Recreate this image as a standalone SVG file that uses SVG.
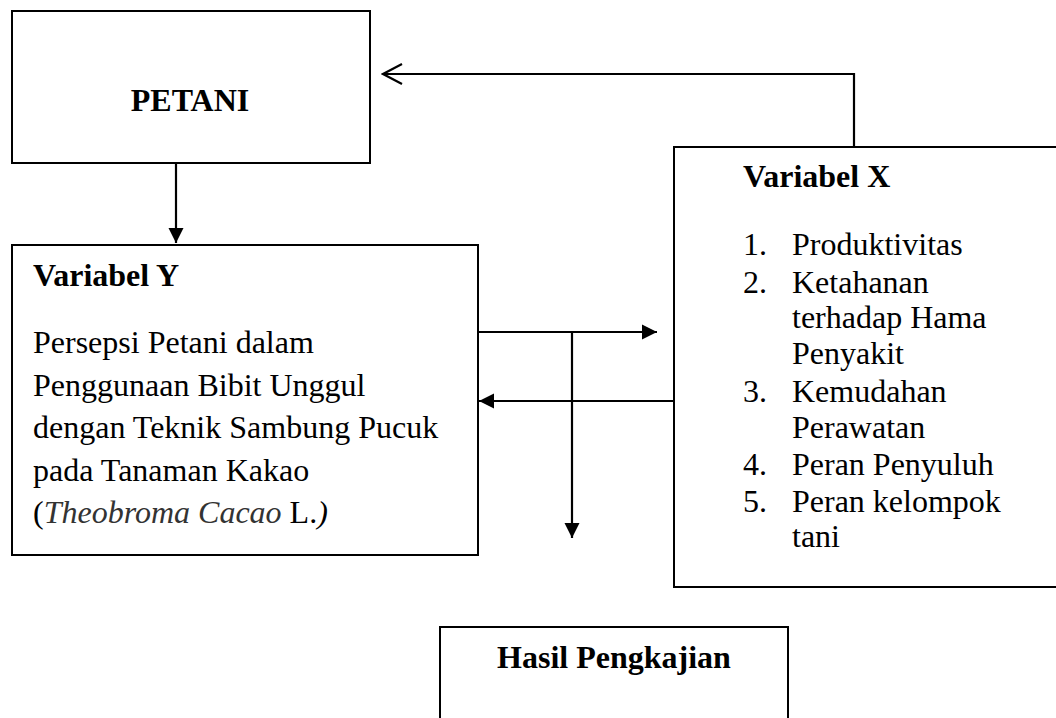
<svg xmlns="http://www.w3.org/2000/svg" width="1056" height="718" viewBox="0 0 1056 718">
<style>
.box{fill:#fff;stroke:#000;stroke-width:2}
.t{font-family:"Liberation Serif","Times New Roman",serif;font-size:32px;fill:#000}
.b{font-weight:bold}
.conn{fill:none;stroke:#000;stroke-width:2.2}
</style>
<defs>
<marker id="fill" markerUnits="userSpaceOnUse" markerWidth="16" markerHeight="16" viewBox="0 0 16 16" refX="15" refY="8" orient="auto">
<path d="M0,0.5 L15,8 L0,15.5 z" fill="#000"/>
</marker>
<marker id="open" markerUnits="userSpaceOnUse" markerWidth="24" markerHeight="24" viewBox="-22 -12 24 24" refX="0" refY="0" orient="auto">
<path d="M-19,-10 L0,0 L-19,10" fill="none" stroke="#000" stroke-width="2.2"/>
</marker>
</defs>
<rect width="1056" height="718" fill="#fff"/>
<g id="petani">
<rect class="box" x="12" y="11" width="358" height="152"/>
<text class="t b" x="190" y="111" text-anchor="middle">PETANI</text>
</g>
<g id="variabel-y">
<rect class="box" x="12" y="245" width="466" height="310"/>
<text class="t b" x="33" y="286">Variabel Y</text>
<text class="t" x="33" y="353">Persepsi Petani dalam</text>
<text class="t" x="33" y="396">Penggunaan Bibit Unggul</text>
<text class="t" x="33" y="438">dengan Teknik Sambung Pucuk</text>
<text class="t" x="33" y="481">pada Tanaman Kakao</text>
<text class="t" x="33" y="523">(<tspan font-style="italic" fill="#333">Theobroma Cacao</tspan> L.<tspan font-style="italic">)</tspan></text>
</g>
<g id="variabel-x">
<rect class="box" x="674" y="147" width="390" height="440"/>
<text class="t b" x="743" y="187">Variabel X</text>
<text class="t" x="743" y="255">1.</text><text class="t" x="792" y="255">Produktivitas</text>
<text class="t" x="743" y="293">2.</text><text class="t" x="792" y="293">Ketahanan</text>
<text class="t" x="792" y="328">terhadap Hama</text>
<text class="t" x="792" y="364">Penyakit</text>
<text class="t" x="743" y="402">3.</text><text class="t" x="792" y="402">Kemudahan</text>
<text class="t" x="792" y="438">Perawatan</text>
<text class="t" x="743" y="475">4.</text><text class="t" x="792" y="475">Peran Penyuluh</text>
<text class="t" x="743" y="512">5.</text><text class="t" x="792" y="512">Peran kelompok</text>
<text class="t" x="792" y="547">tani</text>
</g>
<g id="hasil">
<rect class="box" x="440" y="627" width="348" height="100"/>
<text class="t b" x="614" y="668" text-anchor="middle">Hasil Pengkajian</text>
</g>
<g id="connectors">
<path class="conn" d="M176,163 V243" marker-end="url(#fill)"/>
<path class="conn" d="M854,147 V74 H383" marker-end="url(#open)"/>
<path class="conn" d="M478,332 H657" marker-end="url(#fill)"/>
<path class="conn" d="M674,401 H479" marker-end="url(#fill)"/>
<path class="conn" d="M572,333 V538" marker-end="url(#fill)"/>
</g>
</svg>
